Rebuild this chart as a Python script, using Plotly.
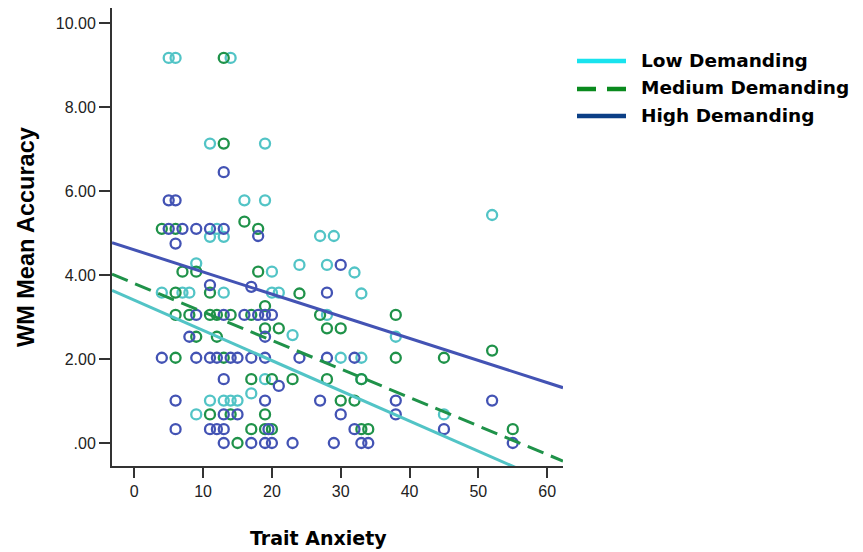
import plotly.graph_objects as go

# ---------------- data ----------------
low_x = [5, 6, 14, 11, 19, 16, 19, 12, 11, 13, 27, 29, 9, 24, 28, 20, 32,
         4, 7, 8, 13, 20, 21, 33, 28, 23, 38, 30, 33, 19, 33, 17,
         11, 13, 14, 15, 9, 45, 52]
low_y = [9.17, 9.17, 9.17, 7.13, 7.13, 5.78, 5.78, 5.10, 4.91, 4.91, 4.93, 4.93, 4.28, 4.24, 4.24, 4.08, 4.06,
         3.58, 3.58, 3.58, 3.58, 3.58, 3.58, 3.56, 3.05, 2.57, 2.53, 2.03, 2.03, 1.52, 1.52, 1.18,
         1.01, 1.01, 1.01, 1.01, 0.68, 0.68, 5.43]

med_x = [13, 13, 16, 4, 6, 18, 7, 9, 18, 6, 11, 24, 19,
         6, 8, 11, 12, 14, 17, 27, 38, 19, 21, 28, 30, 9, 12,
         6, 13, 38, 45, 52, 17, 20, 23, 28, 33, 30, 32,
         11, 14, 19, 17, 19, 20, 33, 34, 55, 15]
med_y = [9.17, 7.13, 5.27, 5.10, 5.10, 5.10, 4.08, 4.08, 4.08, 3.58, 3.58, 3.56, 3.26,
         3.05, 3.05, 3.05, 3.05, 3.05, 3.05, 3.05, 3.05, 2.73, 2.73, 2.73, 2.73, 2.53, 2.53,
         2.03, 2.03, 2.03, 2.03, 2.20, 1.52, 1.52, 1.52, 1.52, 1.52, 1.01, 1.01,
         0.68, 0.68, 0.68, 0.33, 0.33, 0.33, 0.33, 0.33, 0.33, 0.00]

high_x = [13, 5, 6, 5, 7, 9, 11, 13, 18, 6, 30, 11, 17, 28,
          9, 13, 16, 18, 19, 20, 8, 19,
          4, 9, 11, 12, 14, 15, 17, 19, 24, 28, 32,
          13, 21, 6, 19, 27, 38, 52, 13, 15, 30, 38,
          6, 11, 12, 13, 19.5, 32, 45,
          13, 17, 19, 20, 23, 29, 33, 34, 55]
high_y = [6.45, 5.78, 5.78, 5.10, 5.10, 5.10, 5.10, 5.10, 4.93, 4.75, 4.24, 3.76, 3.72, 3.58,
          3.05, 3.05, 3.05, 3.05, 3.05, 3.05, 2.53, 2.53,
          2.03, 2.03, 2.03, 2.03, 2.03, 2.03, 2.03, 2.03, 2.03, 2.03, 2.03,
          1.52, 1.36, 1.01, 1.01, 1.01, 1.01, 1.01, 0.68, 0.68, 0.68, 0.68,
          0.33, 0.33, 0.33, 0.33, 0.33, 0.33, 0.33,
          0.00, 0.00, 0.00, 0.00, 0.00, 0.00, 0.00, 0.00, 0.00]

groups = ["Low Demanding", "Medium Demanding", "High Demanding"]
fit_intercept = [3.40, 3.80, 4.60]
fit_slope = [-0.0719, -0.0679, -0.0527]

x_tickvals = [0, 10, 20, 30, 40, 50, 60]
y_tickvals = [0, 2, 4, 6, 8, 10]
y_ticktext = [".00", "2.00", "4.00", "6.00", "8.00", "10.00"]
x_title = "Trait Anxiety"
y_title = "WM Mean Accuracy"

# ---------------- styles ----------------
point_colors = ["#52C4C6", "#1F9249", "#4353B4"]
legend_colors = ["#19E3EE", "#0A8A1E", "#0B3F86"]
dashes = ["solid", "17px,8px", "solid"]
x_range = [-3.24, 62.3]
y_range = [-0.548, 10.36]

OFF = 8  # page body margin of the html document
W, H = 863 - OFF, 552 - OFF
ML, MR, MT, MB = 104, 300, 0, 86
PW, PH = W - ML - MR, H - MT - MB


def px2paper_x(px):
    return (px - OFF - ML) / PW


def px2paper_y(py):
    return (H - MB - (py - OFF)) / PH


fig = go.Figure()

xs = [low_x, med_x, high_x]
ys = [low_y, med_y, high_y]
for i in range(3):
    fig.add_trace(go.Scatter(
        x=xs[i], y=ys[i], mode="markers", showlegend=False,
        marker=dict(symbol="circle-open", size=10, color=point_colors[i],
                    line=dict(width=2.3, color=point_colors[i])),
        name=groups[i]))

for i in range(3):
    lx = list(x_range)
    ly = [fit_intercept[i] + fit_slope[i] * v for v in lx]
    fig.add_trace(go.Scatter(
        x=lx, y=ly, mode="lines", showlegend=False,
        line=dict(color=point_colors[i], width=3, dash=dashes[i]),
        name=groups[i] + " fit"))

# legend drawn manually
shapes = []
annotations = []
leg_y = [61, 89, 116]
for i in range(3):
    shapes.append(dict(type="line", xref="paper", yref="paper",
                       x0=px2paper_x(577), x1=px2paper_x(626),
                       y0=px2paper_y(leg_y[i]), y1=px2paper_y(leg_y[i]),
                       line=dict(color=legend_colors[i], width=4.5,
                                 dash="19px,11px" if i == 1 else "solid")))
    annotations.append(dict(xref="paper", yref="paper",
                            x=px2paper_x(639), y=px2paper_y(leg_y[i] - 1),
                            xanchor="left", yanchor="middle", showarrow=False,
                            text=groups[i],
                            font=dict(family="DejaVu Sans", size=18.5, weight="bold", color="#000")))

annotations.append(dict(xref="paper", yref="paper", x=px2paper_x(318), y=px2paper_y(538),
                        xanchor="center", yanchor="middle", showarrow=False, text=x_title,
                        font=dict(family="DejaVu Sans", size=19, weight="bold", color="#000")))
annotations.append(dict(xref="paper", yref="paper", x=px2paper_x(26), y=px2paper_y(237),
                        xanchor="center", yanchor="middle", showarrow=False, text=y_title,
                        textangle=-90,
                        font=dict(family="Liberation Sans", size=23.5, weight="bold", color="#000")))

fig.update_layout(
    width=W, height=H,
    margin=dict(l=ML, r=MR, t=MT, b=MB, pad=0),
    paper_bgcolor="white", plot_bgcolor="white",
    shapes=shapes, annotations=annotations,
    xaxis=dict(range=x_range, tickvals=x_tickvals, showgrid=False, zeroline=False,
               showline=True, linecolor="#333", linewidth=2,
               ticks="outside", ticklen=10, tickwidth=2, tickcolor="#333",
               tickfont=dict(family="Liberation Sans", size=16, color="#222")),
    yaxis=dict(range=y_range, tickvals=y_tickvals, ticktext=y_ticktext,
               showgrid=False, zeroline=False,
               showline=True, linecolor="#333", linewidth=2,
               ticks="outside", ticklen=11, tickwidth=2, tickcolor="#333",
               tickfont=dict(family="Liberation Sans", size=16, color="#222")),
)

fig.write_html("out.html")
